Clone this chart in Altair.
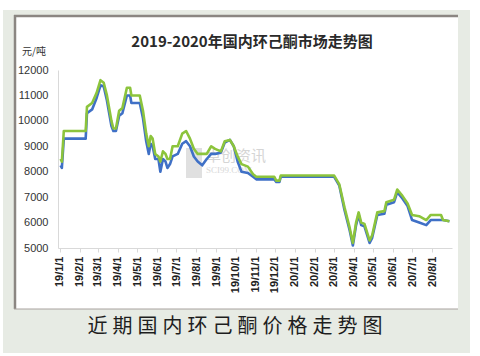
import altair as alt
import pandas as pd

dates = [
    "2019-01-02", "2019-01-04", "2019-01-07", "2019-02-10", "2019-02-12", "2019-02-20",
    "2019-02-27", "2019-03-05", "2019-03-10", "2019-03-15", "2019-03-22", "2019-03-25",
    "2019-03-29", "2019-04-03", "2019-04-08", "2019-04-15", "2019-04-20", "2019-04-22",
    "2019-05-05", "2019-05-10", "2019-05-15", "2019-05-19", "2019-05-22", "2019-05-25",
    "2019-05-29", "2019-06-03", "2019-06-06", "2019-06-10", "2019-06-14", "2019-06-17",
    "2019-06-21", "2019-06-25", "2019-07-03", "2019-07-10", "2019-07-16", "2019-07-22",
    "2019-07-28", "2019-08-03", "2019-08-10", "2019-08-17", "2019-08-24", "2019-08-30",
    "2019-09-08", "2019-09-14", "2019-09-22", "2019-09-28", "2019-10-04", "2019-10-10",
    "2019-10-20", "2019-10-28", "2019-11-02", "2019-11-30", "2019-12-03", "2019-12-08",
    "2019-12-10", "2020-03-02", "2020-03-10", "2020-03-18", "2020-03-26", "2020-03-31",
    "2020-04-05", "2020-04-09", "2020-04-13", "2020-04-18", "2020-04-26", "2020-04-30",
    "2020-05-08", "2020-05-19", "2020-05-22", "2020-06-03", "2020-06-08", "2020-06-16",
    "2020-06-24", "2020-07-01", "2020-07-12", "2020-07-23", "2020-07-30", "2020-08-15",
    "2020-08-18", "2020-08-28",
]
green = [
    8500, 8400, 9600, 9600, 10550, 10700,
    11100, 11600, 11500, 11000, 10000, 9700,
    9700, 10400, 10500, 11300, 11300, 11000,
    11000, 10400, 9500, 9000, 9400, 9300,
    8700, 8600, 8400, 8800, 8700, 8500,
    8500, 9000, 9000, 9500, 9600, 9300,
    8900, 8700, 8700, 8700, 9000, 8900,
    8800, 9200, 9250, 9000, 8600, 8300,
    8200, 7900, 7800, 7800, 7650, 7650,
    7850, 7850, 7500, 6600, 5800, 5200,
    6000, 6400, 6000, 5950, 5300, 5500,
    6400, 6450, 6800, 6900, 7300, 7050,
    6750, 6300, 6250, 6100, 6300, 6300,
    6100, 6050,
]
blue = [
    8250, 8150, 9300, 9300, 10300, 10450,
    10900, 11400, 11350, 10800, 9800, 9600,
    9600, 10200, 10300, 11000, 11000, 10700,
    10700, 10100, 9200, 8700, 9100, 9000,
    8500, 8500, 8000, 8500, 8400, 8150,
    8300, 8600, 8700, 9100, 9200, 9000,
    8600, 8400, 8250, 8500, 8700, 8700,
    8750, 9150, 9250, 9000, 8400, 8000,
    7950, 7800, 7700, 7700, 7600, 7600,
    7800, 7800, 7450, 6500, 5700, 5100,
    5900, 6300, 5900, 5850, 5200, 5400,
    6300, 6350, 6700, 6800, 7200, 6950,
    6650, 6100, 6000, 5900, 6100, 6100,
    6100, 6050,
]
series_names = ["低端", "高端"]
y_ticks = [5000, 6000, 7000, 8000, 9000, 10000, 11000, 12000]
x_tick_months = [(2019, m) for m in range(1, 13)] + [(2020, m) for m in range(1, 9)]

title_text = "2019-2020年国内环己酮市场走势图"
unit_text = "元/吨"
caption_text = "近期国内环己酮价格走势图"
wm1 = "卓创资讯"
wm2 = "SCI99.COM"

df = pd.DataFrame({
    "date": dates * 2,
    "price": blue + green,
    "series": [series_names[0]] * len(dates) + [series_names[1]] * len(dates),
})

W, H = 394, 178
one = pd.DataFrame({"a": [0]})
base = alt.Chart(one)

outer = base.mark_rect(color="#e7ebe4").encode(
    x=alt.value(-55), x2=alt.value(412), y=alt.value(-60), y2=alt.value(283))
panel = base.mark_rect(color="#ffffff").encode(
    x=alt.value(-44), x2=alt.value(400), y=alt.value(-55), y2=alt.value(239))
b_top = base.mark_rule(color="#8b8682", strokeWidth=2.5).encode(
    x=alt.value(-44), x2=alt.value(400), y=alt.value(-54))
b_left = base.mark_rule(color="#8b8682", strokeWidth=2.5).encode(
    x=alt.value(-43), y=alt.value(-55), y2=alt.value(239))
b_bot = base.mark_rule(color="#a8a29e", strokeWidth=1).encode(
    x=alt.value(-44), x2=alt.value(400), y=alt.value(239))

title = base.mark_text(text=title_text, font="Noto Sans CJK SC", fontSize=15,
                       fontWeight="bold", color="#2a2a2a", align="center", baseline="middle").encode(
    x=alt.value(194), y=alt.value(-28))
unit = base.mark_text(text=unit_text, font="Noto Sans CJK SC", fontSize=10,
                      color="#333333", align="left", baseline="middle").encode(
    x=alt.value(-36), y=alt.value(-18))
caption = base.mark_text(text="\u2005".join(caption_text), font="Noto Sans CJK SC", fontSize=20,
                         color="#1e1e1e", align="center", baseline="middle").encode(
    x=alt.value(177), y=alt.value(257))
wmark1 = base.mark_text(text=wm1, font="Noto Sans CJK SC", fontSize=15, color="#c4c4c4",
                        opacity=0.7, align="left", baseline="middle").encode(
    x=alt.value(148), y=alt.value(86))
wmark2 = base.mark_text(text=wm2, font="Liberation Serif", fontSize=9, color="#c8c8c8",
                        opacity=0.7, align="left", baseline="middle").encode(
    x=alt.value(148), y=alt.value(100))
logo = base.mark_rect(color="#cccccc", opacity=0.6).encode(
    x=alt.value(128), x2=alt.value(144), y=alt.value(78), y2=alt.value(108))

tick_vals = [alt.DateTime(year=y, month=m, date=1, utc=True) for y, m in x_tick_months]

lines = alt.Chart(df).mark_line(strokeWidth=2.6, strokeJoin="round").encode(
    x=alt.X("date:T",
            scale=alt.Scale(type="utc",
                            domain=[alt.DateTime(year=2018, month=12, date=29, utc=True),
                                    alt.DateTime(year=2020, month=9, date=1, utc=True)]),
            axis=alt.Axis(values=tick_vals, format="%y/%-m/%-d", labelAngle=270,
                          title=None, grid=False, domainColor="#d9d9d9", tickColor="#d9d9d9",
                          tickSize=4, labelFontSize=11, labelFont="Liberation Sans",
                          labelColor="#222222", labelFontWeight="bold", labelPadding=4,
                          labelOverlap=False, zindex=1)),
    y=alt.Y("price:Q", scale=alt.Scale(domain=[5000, 12000], nice=False, zero=False),
            axis=alt.Axis(values=y_ticks, format="d", title=None, grid=False, domainColor="#d9d9d9",
                          ticks=False, labelFontSize=11, labelFont="Liberation Sans",
                          labelColor="#333333", labelPadding=10, zindex=1)),
    color=alt.Color("series:N", scale=alt.Scale(domain=series_names, range=["#3f70c6", "#8cc43c"]),
                    legend=None),
    order=alt.Order("date:T"),
    detail="series:N",
)

chart = alt.layer(outer, panel, b_top, b_left, b_bot, title, unit, caption,
                  logo, wmark1, wmark2, lines).properties(
    width=W, height=H,
    autosize=alt.AutoSizeParams(type="none"),
    padding={"left": 58, "top": 70, "right": 28, "bottom": 108},
    background="white",
).configure_view(stroke=None)

chart.save("out.html", embed_options={"renderer": "svg", "actions": False})
